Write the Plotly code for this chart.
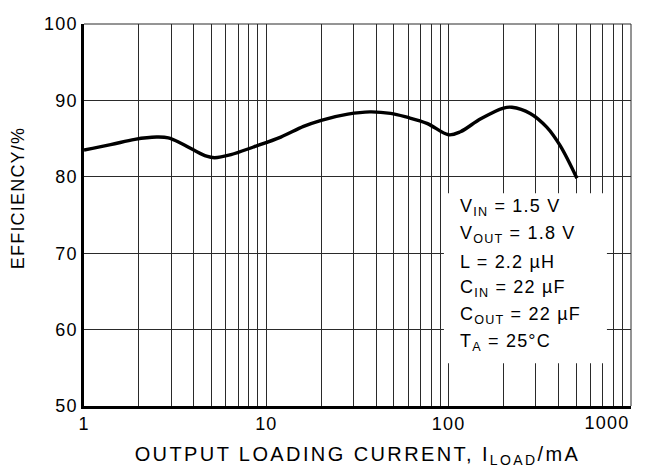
import plotly.graph_objects as go

# Data
load_current_mA = [1.0, 1.4, 1.9, 2.5, 2.9, 3.4, 4.0, 4.7, 5.2, 6.4, 8.5, 12, 16, 20, 28, 37, 48, 59, 76, 100, 116, 150, 200, 222, 280, 345, 408, 505]
efficiency_pct = [83.5, 84.2, 84.9, 85.2, 85.1, 84.4, 83.5, 82.7, 82.5, 82.9, 83.9, 85.2, 86.6, 87.4, 88.2, 88.5, 88.3, 87.8, 87.0, 85.5, 85.9, 87.6, 89.0, 89.1, 88.3, 86.5, 84.1, 79.8]

x_tickvals = [1, 2, 3, 4, 5, 6, 7, 8, 9,
              10, 20, 30, 40, 50, 60, 70, 80, 90,
              100, 200, 300, 400, 500, 600, 700, 800, 900, 1000]
x_ticktext = ["1"] + [""] * 8 + ["10"] + [""] * 8 + ["100"] + [""] * 8 + ["1000"]
y_tickvals = [50, 60, 70, 80, 90, 100]

x_title = "OUTPUT LOADING CURRENT, I<sub>LOAD</sub>/mA"
y_title = "EFFICIENCY/%"

condition_lines = [
    "V<sub>IN</sub> = 1.5 V",
    "V<sub>OUT</sub> = 1.8 V",
    "L = 2.2 µH",
    "C<sub>IN</sub> = 22 µF",
    "C<sub>OUT</sub> = 22 µF",
    "T<sub>A</sub> = 25°C",
]

FONT = "Liberation Sans, Arial, Helvetica, sans-serif"
GRID = "#2a2a2a"
FS = 18

# last tick label is drawn right-aligned at the axis end (as in the reference)
last_label = x_ticktext[-1]
axis_ticktext = x_ticktext[:-1] + [""]

fig = go.Figure()
fig.add_trace(go.Scatter(
    x=load_current_mA, y=efficiency_pct, mode="lines",
    line=dict(color="black", width=3.4, shape="spline", smoothing=1.0),
    hoverinfo="skip", showlegend=False,
))

fig.update_layout(
    width=647, height=473,
    margin=dict(l=84, r=16, t=24, b=67, autoexpand=False),
    paper_bgcolor="white", plot_bgcolor="white",
    font=dict(family=FONT, size=FS, color="black"),
    showlegend=False,
)
fig.update_xaxes(
    type="log", range=[0, 3],
    tickmode="array", tickvals=x_tickvals, ticktext=axis_ticktext,
    ticks="", showgrid=True, gridcolor=GRID, gridwidth=1,
    showline=True, linecolor="black", linewidth=2.5,
    zeroline=False, automargin=False,
    tickfont=dict(size=FS),
    title=dict(text=x_title, font=dict(size=20), standoff=14),
)
fig.update_yaxes(
    range=[50, 100], tickmode="array", tickvals=y_tickvals,
    ticks="", showgrid=True, gridcolor=GRID, gridwidth=1,
    showline=True, linecolor="black", linewidth=2.5,
    zeroline=False, automargin=False,
    tickfont=dict(size=FS),
)

# y title placed as in the reference (slightly above plot centre)
fig.add_annotation(text=y_title, xref="paper", yref="paper",
                   x=(18 - 84) / 547, y=(406 - 198) / 382, textangle=-90,
                   xanchor="center", yanchor="middle", showarrow=False,
                   font=dict(size=FS, family=FONT, color="black"))

fig.add_annotation(text=last_label, xref="paper", yref="paper", x=1.0, y=0,
                   xanchor="right", yanchor="top", yshift=-5, xshift=-2, showarrow=False,
                   font=dict(size=FS, family=FONT, color="black"))

# top and right frame lines
fig.add_shape(type="line", xref="paper", yref="paper", x0=0, x1=1, y0=1, y1=1,
              line=dict(color=GRID, width=1))
fig.add_shape(type="line", xref="paper", yref="paper", x0=1, x1=1, y0=0, y1=1,
              line=dict(color=GRID, width=1))

# white box behind the conditions text
fig.add_shape(type="rect", xref="paper", yref="paper",
              x0=0.658, x1=0.956, y0=0.112, y1=0.557,
              fillcolor="white", line=dict(width=0), layer="above")

line_y_px = [208, 235, 262, 288, 315, 342]
for txt, ypx in zip(condition_lines, line_y_px):
    fig.add_annotation(
        text=txt, xref="paper", yref="paper",
        x=(458 - 84) / 547, y=(406 - ypx) / 382,
        xanchor="left", yanchor="middle", showarrow=False,
        font=dict(size=FS, family=FONT, color="black"), align="left",
    )

post = ("var s=document.createElement('style');"
        "s.textContent='html,body{margin:0;padding:0}"
        " .main-svg text{letter-spacing:1.2px} .main-svg text.xtitle{letter-spacing:2.4px}';"
        "document.head.appendChild(s);")
fig.write_html("out.html", post_script=post, config={"displayModeBar": False})
